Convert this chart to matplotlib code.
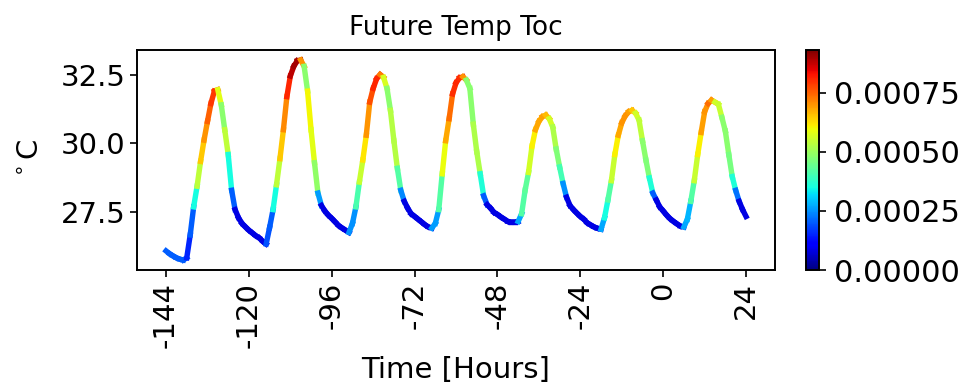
import numpy as np
import matplotlib
matplotlib.use("Agg")
import matplotlib.pyplot as plt
from matplotlib.collections import LineCollection
from matplotlib.ticker import FormatStrFormatter

hours = list(range(-144, 25))

temps = [
    26.10, 26.00, 25.92, 25.85, 25.80, 25.77, 25.85, 26.68, 27.70, 28.45,  # -144..-135
    29.35, 30.12, 30.80, 31.45, 31.90, 31.95, 31.40, 30.50, 29.60, 28.30,  # -134..-125
    27.60, 27.30, 27.10, 26.97, 26.85, 26.75, 26.65, 26.57, 26.45, 26.35,  # -124..-115
    26.95, 27.60, 28.50, 29.45, 30.50, 31.70, 32.45, 32.80, 33.00, 33.03,  # -114..-105
    32.80, 31.90, 30.50, 29.30, 28.20, 27.75, 27.55, 27.40, 27.28, 27.15,  # -104..-95
    27.02, 26.93, 26.85, 26.77, 27.10, 27.70, 28.60, 29.40, 30.30, 31.50,  # -94..-85
    32.00, 32.35, 32.50, 32.40, 32.00, 31.20, 30.10, 29.10, 28.30, 27.90,  # -84..-75
    27.65, 27.45, 27.35, 27.25, 27.15, 27.05, 26.97, 26.93, 27.10, 27.60,  # -74..-65
    28.90, 30.10, 30.90, 31.80, 32.20, 32.38, 32.42, 32.30, 32.00, 30.70,  # -64..-55
    29.70, 28.90, 28.10, 27.78, 27.65, 27.50, 27.42, 27.33, 27.25, 27.17,  # -54..-45
    27.15, 27.15, 27.17, 27.45, 28.30, 28.95, 29.90, 30.50, 30.80, 30.97,  # -44..-35
    31.03, 30.90, 30.60, 29.80, 29.15, 28.55, 28.05, 27.75, 27.60, 27.47,  # -34..-25
    27.35, 27.25, 27.12, 27.04, 26.97, 26.92, 26.89, 27.30, 27.95, 28.65,  # -24..-15
    29.60, 30.30, 30.75, 31.00, 31.15, 31.20, 31.10, 30.85, 30.10, 29.40,  # -14..-5
    28.75, 28.20, 27.95, 27.70, 27.55, 27.40, 27.27, 27.17, 27.08, 27.00,  # -4..5
    26.97, 27.25, 27.90, 28.65, 29.60, 30.40, 31.15, 31.45, 31.57, 31.50,  # 6..15
    31.42, 30.95, 30.45, 29.60, 28.80, 28.30, 27.90, 27.60, 27.35,        # 16..24
]

# attention weight per hour (units of 1e-4), colours the segment starting at that hour
attn_e4 = [
    2.0, 2.0, 2.0, 2.0, 2.0, 2.0, 1.5, 2.0, 3.5, 5.4,   # -144..-135
    6.5, 7.0, 7.5, 7.9, 7.9, 5.8, 4.8, 5.4, 3.5, 2.0,   # -134..-125
    0.8, 0.8, 0.8, 0.8, 0.8, 0.8, 0.8, 0.8, 0.8, 1.9,   # -124..-115
    2.0, 3.5, 5.4, 6.5, 7.1, 8.1, 8.8, 9.0, 9.0, 7.0,   # -114..-105
    4.8, 6.0, 5.8, 4.9, 2.6, 0.8, 0.8, 0.8, 0.8, 0.8,   # -104..-95
    0.8, 0.8, 0.8, 2.5, 2.5, 4.1, 5.5, 6.2, 7.0, 7.7,   # -94..-85
    8.1, 8.1, 7.2, 5.7, 4.8, 5.3, 5.3, 4.2, 2.4, 0.8,   # -84..-75
    0.8, 0.8, 0.8, 0.8, 0.8, 0.8, 0.8, 2.6, 2.6, 4.2,   # -74..-65
    5.9, 6.8, 7.4, 8.0, 8.1, 8.0, 7.0, 4.8, 4.8, 5.2,   # -64..-55
    5.2, 3.6, 2.0, 0.8, 0.8, 0.8, 0.8, 0.8, 0.8, 0.8,   # -54..-45
    0.8, 0.8, 2.7, 4.2, 4.3, 5.6, 6.1, 6.8, 6.8, 6.9,   # -44..-35
    6.6, 5.6, 5.2, 4.7, 4.0, 2.5, 0.8, 0.8, 0.8, 0.8,   # -34..-25
    0.8, 0.8, 0.8, 0.8, 0.8, 0.8, 2.7, 3.5, 4.2, 5.5,   # -24..-15
    6.1, 6.8, 7.0, 7.0, 6.9, 6.5, 5.6, 5.4, 4.8, 4.7,   # -14..-5
    3.6, 2.0, 0.8, 0.8, 0.8, 0.8, 0.8, 0.8, 0.8, 0.8,   # -4..5
    2.7, 2.8, 4.2, 5.5, 6.1, 6.9, 7.0, 7.4, 6.9, 5.6,   # 6..15
    5.5, 4.8, 4.8, 4.6, 3.6, 2.2, 0.8, 0.8, 0.8,        # 16..24
]

title = "Future Temp Toc"
xticks = [-144, -120, -96, -72, -48, -24, 0, 24]
yticks = [27.5, 30.0, 32.5]
cbar_ticks = [0.0, 0.00025, 0.0005, 0.00075]
vmin, vmax = 0.0, 0.00093

x = np.array(hours, dtype=float)
y = np.array(temps)
w = np.array(attn_e4) * 1e-4

pts = np.column_stack([x, y]).reshape(-1, 1, 2)
segs = np.concatenate([pts[:-1], pts[1:]], axis=1)

fig = plt.figure(figsize=(9.61, 3.87), dpi=100)
ax = fig.add_axes([0.1426, 0.3023, 0.6639, 0.5685])
lc = LineCollection(segs, cmap="jet", norm=plt.Normalize(vmin, vmax),
                    linewidths=3.9, capstyle="projecting")
lc.set_array(w[:-1])
ax.add_collection(lc)
ax.set_xlim(x.min() - 0.05 * (x.max() - x.min()), x.max() + 0.05 * (x.max() - x.min()))
yr = y.max() - y.min()
ax.set_ylim(y.min() - 0.05 * yr, y.max() + 0.05 * yr)

ax.set_xticks(xticks)
ax.set_xticklabels([str(t) for t in xticks], rotation=90)
ax.set_yticks(yticks)
ax.set_yticklabels([f"{t:.1f}" for t in yticks])
ax.tick_params(labelsize=21, width=1.2, length=5)
for s in ax.spines.values():
    s.set_linewidth(1.4)
ax.set_title(title, fontsize=19, pad=11)
ax.set_xlabel("Time [Hours]", fontsize=21, labelpad=6)
ax.set_ylabel("$^\\circ$C", fontsize=21, labelpad=12)

cax = fig.add_axes([0.8387, 0.3023, 0.0135, 0.5685])
cb = fig.colorbar(lc, cax=cax)
cb.set_ticks(cbar_ticks)
cb.ax.yaxis.set_major_formatter(FormatStrFormatter("%.5f"))
cb.ax.tick_params(labelsize=22, width=1.2, length=5, pad=6)
cb.outline.set_linewidth(1.4)

fig.savefig("out.png", dpi=100)
